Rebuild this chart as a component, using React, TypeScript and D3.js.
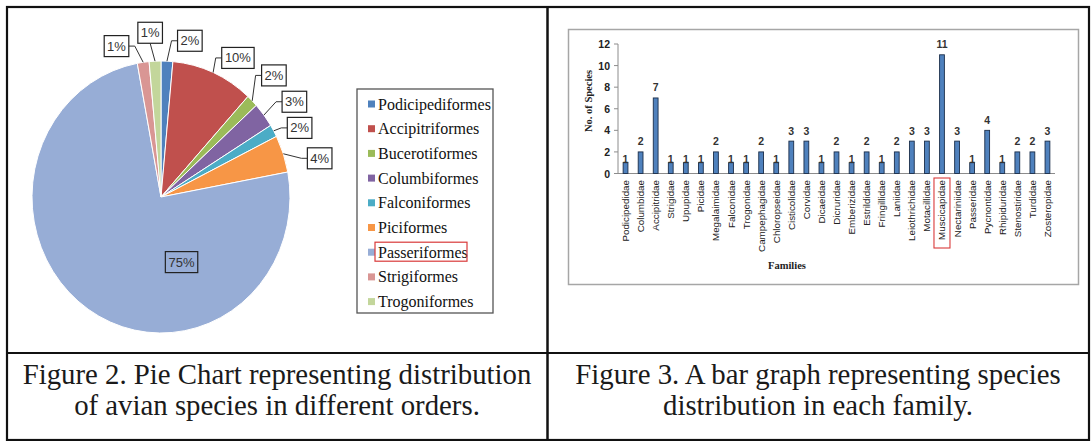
import React from "react";
import * as d3 from "d3";

// ---- Pie chart data (Figure 2) ----
const orders = [
  "Podicipediformes",
  "Accipitriformes",
  "Bucerotiformes",
  "Columbiformes",
  "Falconiformes",
  "Piciformes",
  "Passeriformes",
  "Strigiformes",
  "Trogoniformes",
];
const orderCounts = [1, 7, 1, 2, 1, 3, 51, 1, 1];
const orderLabels = ["2%", "10%", "2%", "3%", "2%", "4%", "75%", "1%", "1%"];
const orderColors = ["#4F81BD", "#C0504D", "#9BBB59", "#8064A2", "#4BACC6", "#F79646", "#97ADD6", "#D99694", "#C3D69B"];
// label nudges (layout only)
const labelNudges = [[22, 0], [17, 4], [8, -11], [15, -1], [9, 7], [18, 11], [57, 9], [-24, 4], [-4, -8]];

// ---- Bar chart data (Figure 3) ----
const families = [
  "Podicipedidae", "Columbidae", "Accipitridae", "Strigidae", "Upupidae", "Picidae",
  "Megalaimidae", "Falconidae", "Trogonidae", "Campephagidae", "Chloropseidae", "Cisticolidae",
  "Corvidae", "Dicaeidae", "Dicruridae", "Emberizidae", "Estrildidae", "Fringillidae",
  "Laniidae", "Leiothrichidae", "Motacillidae", "Muscicapidae", "Nectariniidae", "Passeridae",
  "Pycnontidae", "Rhipiduridae", "Stenostiridae", "Turdidae", "Zosteropidae",
];
const familyCounts = [1, 2, 7, 1, 1, 1, 2, 1, 1, 2, 1, 3, 3, 1, 2, 1, 2, 1, 2, 3, 3, 11, 3, 1, 4, 1, 2, 2, 3];
const yTicks = [0, 2, 4, 6, 8, 10, 12];
const highlightedFamily = "Muscicapidae";
const highlightedOrder = "Passeriformes";

const captionLeft = ["Figure 2. Pie Chart representing distribution", "of avian species in different orders."];
const captionRight = ["Figure 3. A bar graph representing species", "distribution in each family."];

const SANS = "'Liberation Sans', Arial, sans-serif";
const SERIF = "'Liberation Serif', 'Times New Roman', serif";

function PieChart() {
  const cx = 161, cy = 197, rx = 129, ry = 136;
  const pie = d3.pie<number>().sort(null).value((d) => d);
  const arcs = pie(orderCounts);
  const arc = d3.arc<d3.PieArcDatum<number>>().innerRadius(0).outerRadius(rx);
  const sy = ry / rx;

  const labels = arcs.map((a, i) => {
    const mid = (a.startAngle + a.endAngle) / 2;
    const ax = cx + Math.sin(mid) * rx;
    const ay = cy - Math.cos(mid) * ry;
    const lx = cx + Math.sin(mid) * rx * 1.15 + labelNudges[i][0];
    const ly = cy - Math.cos(mid) * ry * 1.15 + labelNudges[i][1];
    const text = orderLabels[i];
    const w = 9 + 7.8 * text.length;
    const h = 21;
    const inside = a.endAngle - a.startAngle > Math.PI;
    const px = inside ? cx + Math.sin(mid) * rx * 0.5 + labelNudges[i][0] : lx;
    const py = inside ? cy - Math.cos(mid) * ry * 0.5 + labelNudges[i][1] : ly;
    let leader = "";
    if (!inside) {
      const hw = w / 2, hh = h / 2;
      if (px - ax > hw + 4) {
        leader = `M${ax},${ay}L${px - hw - 6},${py}L${px - hw},${py}`;
      } else if (ax - px > hw + 4) {
        leader = `M${ax},${ay}L${px + hw + 6},${py}L${px + hw},${py}`;
      } else {
        leader = `M${ax},${ay}L${px},${py + hh}`;
      }
    }
    return { i, text, w, h, px, py, inside, leader };
  });

  const legendX = 357, legendY = 89, legendW = 136, legendH = 224;
  const legendStep = 24.7;

  return (
    <g>
      <g transform={`translate(${cx},${cy}) scale(1,${sy})`}>
        {arcs.map((a, i) => (
          <path key={i} d={arc(a) || ""} fill={orderColors[i]} stroke="#fff" strokeWidth={1} vectorEffect="non-scaling-stroke" />
        ))}
      </g>
      {labels.map((l) => (
        <g key={l.i}>
          {l.leader && <path d={l.leader} fill="none" stroke="#333" strokeWidth={1} />}
          <rect x={l.px - l.w / 2} y={l.py - l.h / 2} width={l.w} height={l.h}
            fill={l.inside ? orderColors[l.i] : "#fff"} stroke="#222" strokeWidth={1.2} />
          <text x={l.px} y={l.py} textAnchor="middle" dominantBaseline="central"
            fontFamily={SANS} fontSize={13} fill="#333">{l.text}</text>
        </g>
      ))}
      <rect x={legendX} y={legendY} width={legendW} height={legendH} fill="#fff" stroke="#555" strokeWidth={1.3} />
      {orders.map((o, i) => {
        const y = legendY + 15 + i * legendStep;
        return (
          <g key={o}>
            <rect x={legendX + 11} y={y - 3.5} width={7} height={7} fill={orderColors[i]} />
            <text x={legendX + 21} y={y} dominantBaseline="central" fontFamily={SERIF} fontSize={16} fill="#111">{o}</text>
            {o === highlightedOrder && (
              <rect x={legendX + 18} y={y - 10} width={92} height={19} fill="none" stroke="#D93A3A" strokeWidth={1.2} />
            )}
          </g>
        );
      })}
    </g>
  );
}

function BarChart() {
  const left = 618, right = 1055, top = 44, bottom = 173.5;
  const x = d3.scaleBand<string>().domain(families).range([left, right]).paddingInner(0.7).paddingOuter(0.35);
  const y = d3.scaleLinear().domain([0, 12]).range([bottom, top]);
  const bw = 4.8;
  return (
    <g>
      <rect x={568.5} y={29.5} width={510} height={255} fill="#fff" stroke="#A6A6A6" strokeWidth={1.5} />
      <line x1={left} x2={left} y1={top} y2={bottom} stroke="#8c8c8c" strokeWidth={1} />
      {yTicks.map((t) => (
        <g key={t}>
          <line x1={left - 4} x2={left} y1={y(t)} y2={y(t)} stroke="#8c8c8c" strokeWidth={1} />
          <text x={left - 8} y={y(t)} textAnchor="end" dominantBaseline="central" fontFamily={SANS} fontWeight="bold" fontSize={10.5} fill="#222">{t}</text>
        </g>
      ))}
      <line x1={left} x2={right} y1={bottom} y2={bottom} stroke="#8c8c8c" strokeWidth={1} />
      {families.map((f, i) => {
        const c = (x(f) as number) + x.bandwidth() / 2;
        const v = familyCounts[i];
        const labelGap = v === 1 ? 3.5 : 10.5;
        return (
          <g key={f}>
            <rect x={c - bw / 2} y={y(v)} width={bw} height={bottom - y(v)} fill="#4F81BD" stroke="#1B2E4A" strokeWidth={0.9} />
            <text x={c} y={y(v) - labelGap} textAnchor="middle" dominantBaseline="central" fontFamily={SANS} fontWeight="bold" fontSize={10.5} fill="#333">{v}</text>
            <text transform={`translate(${c},${bottom + 6.5}) rotate(-90)`} textAnchor="end" dominantBaseline="central"
              fontFamily={SANS} fontSize={9.8} fill="#222">{f}</text>
            {f === highlightedFamily && (
              <rect x={c - 8} y={bottom + 4.5} width={16} height={70} fill="none" stroke="#D93A3A" strokeWidth={1.1} />
            )}
          </g>
        );
      })}
      <text x={787} y={265} textAnchor="middle" dominantBaseline="central" fontFamily={SERIF} fontWeight="bold" fontSize={10.5} fill="#222">Families</text>
      <text transform={`translate(588,101) rotate(-90)`} textAnchor="middle" dominantBaseline="central" fontFamily={SERIF} fontWeight="bold" fontSize={10.5} fill="#222">No. of Species</text>
    </g>
  );
}

export default function App() {
  const W = 1091, H = 441;
  return (
    <svg width={W} height={H} style={{ position: "absolute", left: 0, top: 0, background: "#fff" }}>
      <rect x={0} y={0} width={W} height={H} fill="#fff" />
      <PieChart />
      <BarChart />
      {captionLeft.map((t, i) => (
        <text key={t} x={277} y={384 + i * 31} textAnchor="middle" fontFamily={SERIF} fontSize={28.8} fill="#1a1a1a">{t}</text>
      ))}
      {captionRight.map((t, i) => (
        <text key={t} x={818} y={384 + i * 31} textAnchor="middle" fontFamily={SERIF} fontSize={28.8} fill="#1a1a1a">{t}</text>
      ))}
      {/* table frame */}
      <rect x={7} y={7} width={1082} height={433} fill="none" stroke="#111" strokeWidth={2.2} />
      <line x1={7} x2={1089} y1={353} y2={353} stroke="#111" strokeWidth={2.2} />
      <line x1={547.5} x2={547.5} y1={7} y2={440} stroke="#111" strokeWidth={2.5} />
    </svg>
  );
}
